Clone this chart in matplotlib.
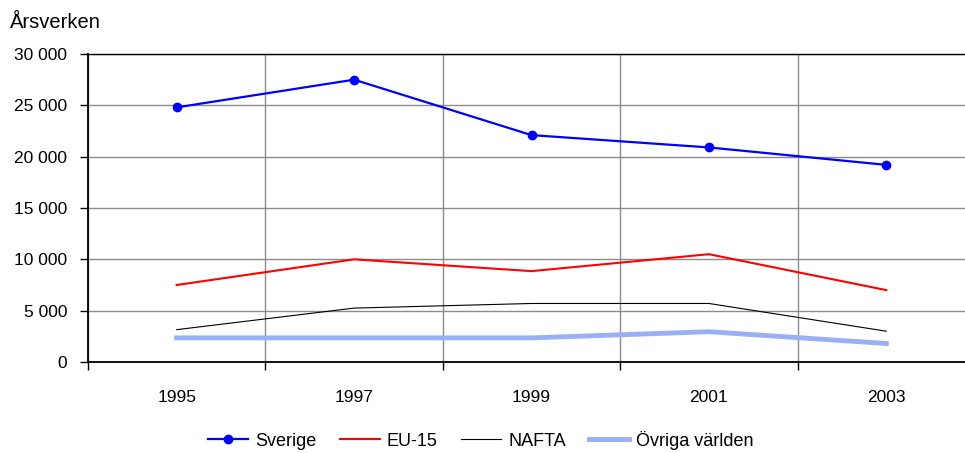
import matplotlib
matplotlib.use("Agg")
import matplotlib.pyplot as plt
from matplotlib.ticker import FuncFormatter

plt.rcParams["font.family"] = ["Liberation Sans", "DejaVu Sans"]

years = ["1995", "1997", "1999", "2001", "2003"]
sverige = [24800, 27500, 22100, 20900, 19200]
eu15 = [7500, 10000, 8850, 10500, 7000]
nafta = [3150, 5250, 5700, 5700, 3000]
ovriga = [2350, 2350, 2350, 2950, 1800]

fig = plt.figure(figsize=(9.65, 4.53), dpi=100)
ax = fig.add_axes([88 / 965, 1 - 362 / 453, 887 / 965, 308 / 453])

x = range(len(years))
ax.plot(x, sverige, color="#0000ff", lw=1.6, marker="o", ms=6, label="Sverige", zorder=5)
ax.plot(x, eu15, color="#ff0000", lw=1.5, label="EU-15", zorder=4)
ax.plot(x, nafta, color="#000000", lw=0.8, label="NAFTA", zorder=4)
ax.plot(x, ovriga, color="#99b0f5", lw=3.5, label="Övriga världen", zorder=3)

ax.set_xlim(-0.5, len(years) - 0.5)
ax.set_ylim(0, 30000)
ax.set_yticks(range(0, 30001, 5000))
ax.yaxis.set_major_formatter(FuncFormatter(lambda v, p: f"{int(v):,}".replace(",", " ")))
ax.set_xticks([i - 0.5 for i in range(len(years) + 1)])
ax.set_xticklabels([])
ax.set_xticks(list(x), minor=True)
ax.set_xticklabels(years, minor=True)
ax.tick_params(axis="x", which="minor", length=0, pad=20, labelsize=12.5)
ax.tick_params(axis="x", which="major", length=6, width=1, direction="out")
ax.tick_params(axis="y", length=6, width=1, direction="out", labelsize=12.5, pad=9)

ax.grid(True, which="major", color="#8c8c8c", lw=1)
ax.set_axisbelow(True)
for s in ["left", "bottom"]:
    ax.spines[s].set_linewidth(1.3)
ax.spines["top"].set_linewidth(1.0)
ax.spines["right"].set_visible(False)

fig.text(10 / 965, 1 - 22 / 453, "Årsverken", fontsize=14.5, va="center", ha="left")

fig.legend(loc="center", bbox_to_anchor=(481 / 965, 1 - 440 / 453), ncol=4, frameon=False,
           fontsize=13, handlelength=2.2, columnspacing=1.3, handletextpad=0.4)

fig.savefig("out.png", dpi=100)
